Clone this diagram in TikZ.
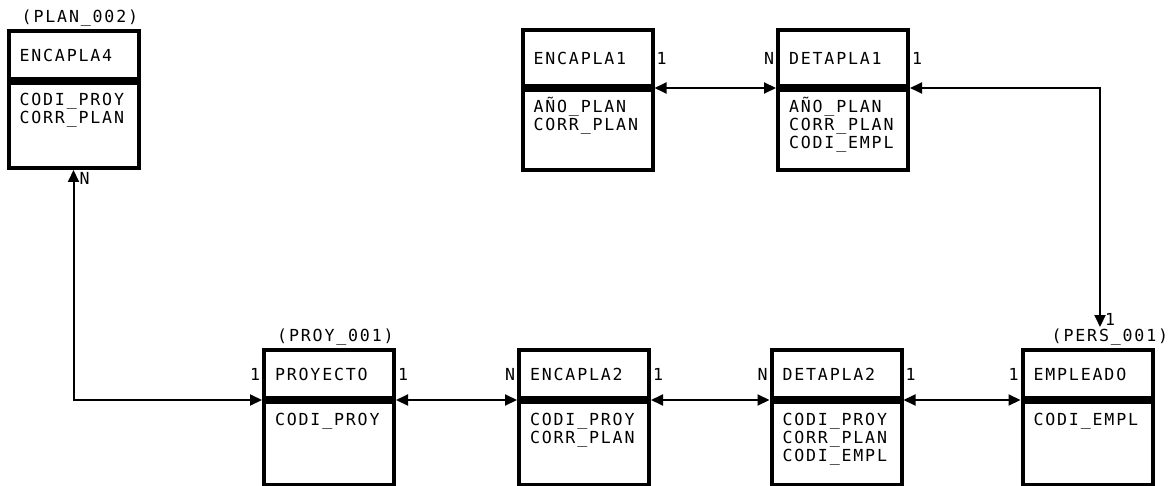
\documentclass[tikz,border=0pt]{standalone}
\usepackage{fontspec}
\usepackage{tikz}
\usetikzlibrary{arrows.meta, positioning}
\newfontfamily\plotfont[LetterSpace=11]{DejaVu Sans Mono}

\begin{document}
\begin{tikzpicture}[
      x=0.5pt, y=-0.5pt,
      every node/.style={font=\plotfont\fontsize{8.3pt}{9pt}\selectfont},
      hdr/.style={draw, line width=2pt, text width=54pt, inner xsep=5.5pt, inner ysep=0pt, align=left},
      body/.style={draw, line width=2pt, text width=54pt, inner xsep=5.5pt, inner ysep=3pt, align=left, text height=8.5pt, text depth=#1},
      tag/.style={inner sep=1pt, anchor=south east},
      card/.style={inner sep=0.8pt},
      rel/.style={{Triangle[length=6pt,width=5.5pt]}-{Triangle[length=6pt,width=5.5pt]}, line width=1pt}
    ]
  \useasboundingbox (0,0) rectangle (1176,486);

  % tables, top row
  \node[hdr, minimum height=24pt] (encapla4) at (73.5,55) {ENCAPLA4};
  \node[body=28pt, below=0pt of encapla4] (encapla4b) {CODI\_PROY\\CORR\_PLAN};
  \node[tag] (plan002) at (encapla4.north east) {(PLAN\_002)};

  \node[hdr, minimum height=28pt] (encapla1) at (587.5,58) {ENCAPLA1};
  \node[body=25.5pt, below=0pt of encapla1] (encapla1b) {AÑO\_PLAN\\CORR\_PLAN};
  \node[hdr, minimum height=28pt] (detapla1) at (843,58) {DETAPLA1};
  \node[body=25.5pt, below=0pt of detapla1] (detapla1b) {AÑO\_PLAN\\CORR\_PLAN\\CODI\_EMPL};

  % tables, bottom row
  \node[hdr, minimum height=24pt] (proyecto) at (329,374) {PROYECTO};
  \node[body=27pt, below=0pt of proyecto] (proyectob) {CODI\_PROY};
  \node[tag] (proy001) at (proyecto.north east) {(PROY\_001)};
  \node[hdr, minimum height=24pt] (encapla2) at (584,374) {ENCAPLA2};
  \node[body=27pt, below=0pt of encapla2] (encapla2b) {CODI\_PROY\\CORR\_PLAN};
  \node[hdr, minimum height=24pt] (detapla2) at (836.5,374) {DETAPLA2};
  \node[body=27pt, below=0pt of detapla2] (detapla2b) {CODI\_PROY\\CORR\_PLAN\\CODI\_EMPL};
  \node[hdr, minimum height=24pt] (empleado) at (1087.5,374) {EMPLEADO};
  \node[body=27pt, below=0pt of empleado] (empleadob) {CODI\_EMPL};
  \node[tag] (pers001) at ([xshift=8pt]empleado.north east) {(PERS\_001)};
  \coordinate (perstip) at (1100,327);

  % relations
  \draw[rel] (encapla4b.south) |- (proyecto.south west);
  \draw[rel] (proyecto.south east) -- (encapla2.south west);
  \draw[rel] (encapla2.south east) -- (detapla2.south west);
  \draw[rel] (detapla2.south east) -- (empleado.south west);
  \draw[rel] (encapla1.south east) -- (detapla1.south west);
  \draw[rel] (detapla1.south east) -| (perstip);

  % cardinalities
  \node[card, anchor=north west, xshift=2pt] (n4) at (encapla4b.south) {N};
  \node[card, anchor=east] (c1) at (proyecto.west) {1};
  \node[card, anchor=west] (c2) at (proyecto.east) {1};
  \node[card, anchor=east] (n2) at (encapla2.west) {N};
  \node[card, anchor=west] (c3) at (encapla2.east) {1};
  \node[card, anchor=east] (n3) at (detapla2.west) {N};
  \node[card, anchor=west] (c4) at (detapla2.east) {1};
  \node[card, anchor=east] (c5) at (empleado.west) {1};
  \node[card, anchor=west] (c6) at (encapla1.east) {1};
  \node[card, anchor=east] (n1) at (detapla1.west) {N};
  \node[card, anchor=west] (c7) at (detapla1.east) {1};
  \node[card, anchor=south west, xshift=1.5pt] (c8) at (perstip) {1};
\end{tikzpicture}
\end{document}
